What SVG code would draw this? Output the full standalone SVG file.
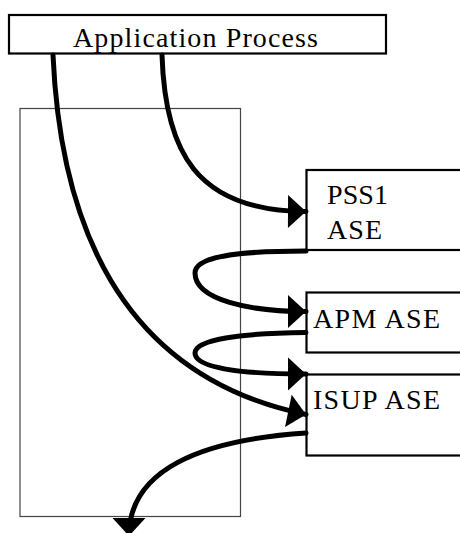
<svg xmlns="http://www.w3.org/2000/svg" width="460" height="533" viewBox="0 0 460 533">
<style>
.box{fill:#fff;stroke:#000;stroke-width:2.2}
.lbl{font-family:"Liberation Serif","Times New Roman",serif;font-size:28px;fill:#000}
.conn{fill:none;stroke:#000;stroke-width:5;stroke-linecap:round}
</style>
<defs>
<marker id="ah" markerUnits="userSpaceOnUse" markerWidth="20" markerHeight="36" viewBox="0 -18 20 36" refX="18" refY="0" orient="auto" overflow="visible">
<path d="M0,-16.5 L18,0 L0,16.5 z" fill="#000"/>
</marker>
</defs>
<rect id="frame" x="20" y="108.5" width="220.5" height="408" fill="#fff" stroke="#444" stroke-width="1.2"/>
<g id="app">
<rect class="box" x="9" y="15" width="377" height="38.5" stroke-width="2.6"/>
<text class="lbl" x="73" y="46.5" textLength="245" lengthAdjust="spacing">Application Process</text>
</g>
<g id="pss1">
<rect class="box" x="306.5" y="170" width="170" height="80"/>
<text class="lbl" x="327" y="204" textLength="61" lengthAdjust="spacing">PSS1</text>
<text class="lbl" x="327" y="239" textLength="55" lengthAdjust="spacing">ASE</text>
</g>
<g id="apm">
<rect class="box" x="306.5" y="292.5" width="170" height="60"/>
<text class="lbl" x="313" y="328" textLength="127" lengthAdjust="spacing">APM ASE</text>
</g>
<g id="isup">
<rect class="box" x="306.5" y="374.5" width="170" height="81"/>
<text class="lbl" x="313" y="408.5" textLength="127" lengthAdjust="spacing">ISUP ASE</text>
</g>
<g id="connectors">
<path class="conn" d="M53,55 C60,215 115,375 306,414.5" marker-end="url(#ah)"/>
<path class="conn" d="M162,55 C165,150 195,211 306,211.5" marker-end="url(#ah)"/>
<path class="conn" d="M306,251 C230,251 195,258 195,273 C195,300 250,311.5 306,311.5" marker-end="url(#ah)"/>
<path class="conn" d="M306,332.5 C240,333 195,340 195,353 C195,368 240,374 306,374" marker-end="url(#ah)"/>
<path class="conn" d="M306,433 C200,440 129,470 129,536" marker-end="url(#ah)"/>
</g>
</svg>
